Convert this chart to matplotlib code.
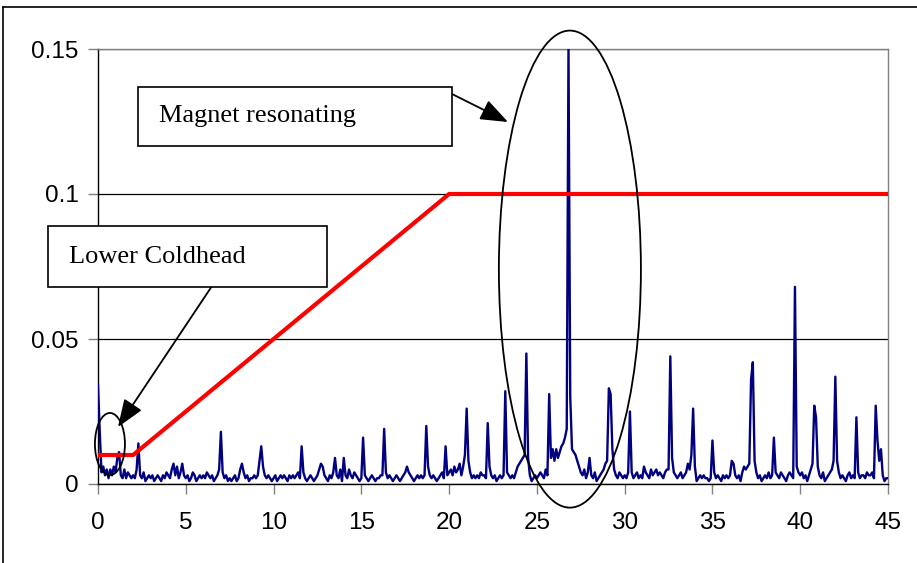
import numpy as np
import matplotlib.pyplot as plt
from matplotlib.patches import Ellipse, Rectangle
from matplotlib.lines import Line2D

# spectrum values, one row per unit on the x axis (x.0 ... x.9), in units of 0.001
spec_rows = [
    [34, 18, 4, 6, 3, 5, 2, 5, 3, 6],
    [4, 9, 11, 3, 2, 5, 2, 4, 3, 2],
    [3, 2, 5, 14, 3, 2, 4, 1, 2, 3],
    [2, 3, 1, 2, 3, 2, 1, 3, 2, 4],
    [3, 2, 5, 7, 3, 6, 2, 4, 7, 3],
    [2, 3, 1, 2, 4, 3, 1, 2, 3, 2],
    [3, 2, 4, 3, 2, 3, 1, 2, 3, 5],
    [18, 4, 2, 3, 1, 2, 1, 2, 3, 1],
    [2, 5, 7, 4, 2, 3, 1, 2, 2, 3],
    [2, 3, 8, 13, 6, 3, 2, 3, 2, 1],
    [2, 3, 1, 2, 3, 2, 3, 2, 1, 3],
    [2, 3, 2, 3, 4, 2, 13, 4, 2, 1],
    [2, 3, 2, 1, 2, 3, 5, 7, 6, 3],
    [2, 1, 3, 2, 4, 9, 3, 2, 5, 1],
    [9, 3, 2, 5, 3, 2, 4, 3, 2, 1],
    [2, 16, 3, 2, 1, 2, 3, 2, 1, 2],
    [2, 3, 3, 19, 4, 2, 3, 2, 1, 2],
    [3, 2, 1, 2, 3, 4, 6, 4, 3, 2],
    [1, 2, 3, 2, 3, 2, 3, 20, 6, 3],
    [2, 3, 2, 1, 2, 3, 4, 2, 13, 3],
    [4, 5, 3, 6, 4, 5, 7, 3, 6, 10],
    [26, 8, 4, 2, 3, 2, 3, 2, 4, 3],
    [3, 2, 21, 6, 3, 2, 3, 1, 2, 3],
    [2, 3, 32, 4, 3, 2, 3, 2, 4, 6],
    [7, 8, 9, 10, 45, 9, 3, 1, 2, 3],
    [2, 3, 4, 3, 2, 5, 3, 31, 9, 12],
    [8, 12, 9, 11, 13, 14, 16, 19, 150, 30],
    [12, 11, 10, 8, 6, 4, 3, 5, 2, 4],
    [9, 3, 2, 4, 1, 2, 3, 4, 5, 7],
    [8, 33, 31, 12, 5, 3, 2, 4, 3, 2],
    [3, 2, 4, 25, 4, 2, 3, 4, 2, 3],
    [2, 6, 4, 3, 2, 5, 3, 4, 5, 3],
    [4, 3, 2, 4, 5, 5, 44, 9, 4, 3],
    [2, 3, 4, 2, 3, 4, 7, 5, 10, 26],
    [6, 1, 2, 3, 2, 3, 2, 2, 1, 2],
    [15, 4, 2, 3, 2, 1, 3, 2, 3, 2],
    [3, 8, 7, 3, 2, 3, 1, 4, 6, 5],
    [6, 7, 36, 42, 8, 4, 2, 3, 1, 2],
    [3, 2, 4, 2, 3, 16, 4, 3, 2, 4],
    [3, 2, 1, 3, 4, 3, 2, 68, 6, 4],
    [3, 4, 2, 3, 1, 3, 5, 7, 27, 23],
    [6, 3, 2, 4, 1, 2, 3, 4, 5, 8],
    [37, 8, 4, 2, 3, 2, 1, 3, 4, 2],
    [3, 2, 23, 4, 2, 3, 3, 2, 4, 3],
    [3, 4, 2, 27, 15, 8, 12, 3, 1, 2],
    [2],
]
spec_start = 0.0
spec_step = 0.1

# threshold line
limit_x = [0, 2, 20, 45]
limit_y = [0.01, 0.01, 0.1, 0.1]

x_ticks = [0, 5, 10, 15, 20, 25, 30, 35, 40, 45]
y_ticks = [0, 0.05, 0.1, 0.15]
y_labels = ['0', '0.05', '0.1', '0.15']

amp = np.concatenate([np.array(r, dtype=float) for r in spec_rows]) * 0.001
freq = spec_start + spec_step * np.arange(len(amp))

W, H = 917, 563
fig = plt.figure(figsize=(W / 100, H / 100), dpi=100)
ax = fig.add_axes([98 / W, 1 - 484 / H, (888 - 98) / W, (484 - 49) / H])

ax.plot(freq, amp, color='#000080', lw=1.7, zorder=3)
ax.plot(limit_x, limit_y, color='#ff0000', lw=3, zorder=4)

ax.set_xlim(0, 45)
ax.set_ylim(0, 0.15)
ax.set_xticks(x_ticks)
ax.set_yticks(y_ticks)
ax.set_yticklabels(y_labels)
for lab in ax.get_xticklabels() + ax.get_yticklabels():
    lab.set_family('Liberation Sans')
    lab.set_fontsize(17.5)
ax.tick_params(axis='x', direction='out', length=7, width=1, color='#808080', pad=13)
ax.tick_params(axis='y', direction='out', length=7, width=1, color='#808080', pad=7)

ax.yaxis.grid(True, color='black', lw=0.9)
ax.set_axisbelow(True)
ax.spines['left'].set_color('black')
ax.spines['bottom'].set_color('black')
ax.spines['top'].set_color('#808080')
ax.spines['right'].set_color('#808080')
for s in ax.spines.values():
    s.set_linewidth(1)

# ellipses around the marked regions
ax.add_patch(Ellipse((26.88, 0.0741), 8.09, 0.1645, fill=False, ec='black', lw=1.3,
                     clip_on=False, zorder=5))
ax.add_patch(Ellipse((0.68, 0.0138), 1.71, 0.0214, fill=False, ec='black', lw=1.3,
                     clip_on=False, zorder=5))


def px_box(x0, y0, x1, y1, text, tx, ty):
    fig.add_artist(Rectangle((x0 / W, 1 - y1 / H), (x1 - x0) / W, (y1 - y0) / H,
                             transform=fig.transFigure, fc='white', ec='black',
                             lw=1.2, zorder=6))
    fig.text(tx / W, 1 - ty / H, text, family='Liberation Serif', fontsize=19,
             ha='left', va='baseline', zorder=7)


def px_arrow(x0, y0, x1, y1):
    ax.annotate('', xy=(x1, H - y1), xytext=(x0, H - y0),
                xycoords='figure pixels', textcoords='figure pixels',
                arrowprops=dict(arrowstyle='-|>,head_length=1.7,head_width=0.65',
                                color='black', lw=1.3, shrinkA=0, shrinkB=0),
                annotation_clip=False, zorder=7)


px_box(138, 87, 452, 146, 'Magnet resonating', 159, 122)
px_arrow(452, 94, 508, 122)
px_box(48, 226, 327, 287, 'Lower Coldhead', 69, 263)
px_arrow(212, 286, 118, 427)

# outer chart frame
fig.add_artist(Line2D([3 / W, 1], [1 - 7 / H, 1 - 7 / H], transform=fig.transFigure,
                      color='black', lw=1.2))
fig.add_artist(Line2D([3 / W, 3 / W], [0, 1 - 7 / H], transform=fig.transFigure,
                      color='black', lw=1.2))

fig.savefig('out.png', dpi=100)
